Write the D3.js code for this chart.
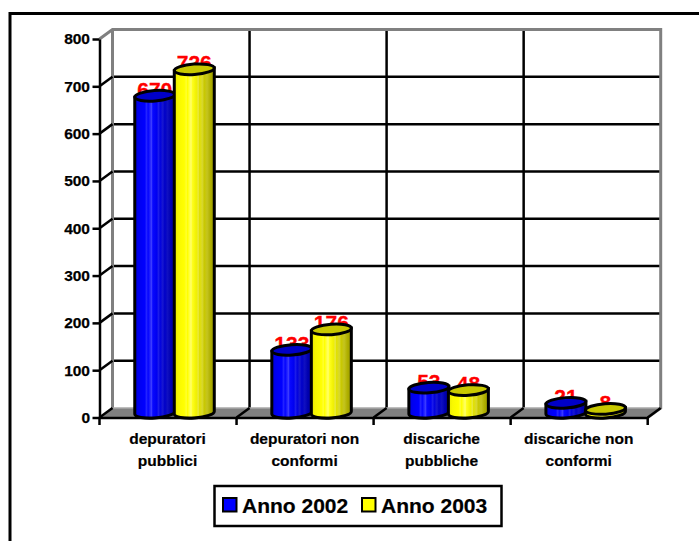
<!DOCTYPE html>
<html><head><meta charset="utf-8">
<script src="https://cdn.jsdelivr.net/npm/d3@7"></script>
<style>html,body{margin:0;padding:0;background:#fff}svg{display:block}text{font-family:"Liberation Sans",Arial,sans-serif;font-weight:bold}</style>
</head><body><div id="c"></div>
<script>
const categories = [["depuratori","pubblici"],["depuratori non","conformi"],["discariche","pubbliche"],["discariche non","conformi"]];
const seriesNames = ["Anno 2002","Anno 2003"];
const anno2002 = [670,133,53,21];
const anno2003 = [726,176,48,8];
const yTicks = [0,100,200,300,400,500,600,700,800];

const seriesValues = [anno2002, anno2003];
const colors = ["#0000ff","#ffff00"];
const topColors = ["#0000c8","#c8c800"];
const W=699,H=541, depthX=13, depthY=-9.5, rx=20, ry=5.2, tilt=4;
const svg=d3.select("#c").append("svg").attr("width",W).attr("height",H);
const y=d3.scaleLinear().domain([0,800]).range([417.5,39]);
const x=d3.scaleBand().domain(d3.range(categories.length)).range([99.5,647.7]);
const inner=d3.scaleBand().domain(d3.range(seriesNames.length)).range([0,x.bandwidth()]).paddingInner(0).paddingOuter(0.734);
const gray="#808080", lw=2.5;

// gradients
const defs=svg.append("defs");
const stops=[
 [[0,"#0000d8"],[.1,"#0000f0"],[.25,"#0000ff"],[.3,"#2828ff"],[.33,"#0000ff"],[.42,"#3c3cff"],[.45,"#0808ff"],[.55,"#0000f0"],[.6,"#2020e8"],[.63,"#0000e0"],[.7,"#1818d0"],[.75,"#0000c8"],[.82,"#1010c0"],[.9,"#0000b0"],[1,"#000098"]],
 [[0,"#e8e800"],[.1,"#f8f800"],[.25,"#ffff00"],[.3,"#ffff30"],[.33,"#ffff00"],[.42,"#ffff70"],[.45,"#ffff20"],[.55,"#f0f000"],[.6,"#e8e840"],[.63,"#e0e000"],[.7,"#d8d830"],[.75,"#c8c800"],[.82,"#c4c420"],[.9,"#b0b000"],[1,"#989800"]]
];
stops.forEach((s,i)=>{
  const g=defs.append("linearGradient").attr("id","g"+i);
  s.forEach(d=>g.append("stop").attr("offset",d[0]).attr("stop-color",d[1]));
});

// outer frame (open on right and bottom)
svg.append("path").attr("d",`M10,${H}V13.5H${W}`).attr("fill","none").attr("stroke","#000").attr("stroke-width",3);

const x0=x.range()[0], x1=x.range()[1], yb=y(0), yt=y(800);

// floor
svg.append("path").attr("d",`M${x0},${yb}L${x0+depthX},${yb+depthY}H${x1+depthX}L${x1},${yb}Z`).attr("fill",gray);

// back grid
const g=svg.append("g");
g.selectAll("line.h").data(yTicks.slice(1,-1)).join("line")
 .attr("x1",x0+depthX).attr("x2",x1+depthX)
 .attr("y1",d=>y(d)+depthY).attr("y2",d=>y(d)+depthY)
 .attr("stroke","#000").attr("stroke-width",lw);
g.selectAll("line.v").data(d3.range(1,categories.length)).join("line")
 .attr("x1",d=>x(d)+depthX).attr("x2",d=>x(d)+depthX)
 .attr("y1",yt+depthY).attr("y2",yb+depthY)
 .attr("stroke","#000").attr("stroke-width",lw);

// walls
svg.append("path").attr("d",`M${x0},${yt}L${x0+depthX},${yt+depthY}H${x1+depthX}V${yb+depthY}L${x1},${yb}`)
 .attr("fill","none").attr("stroke",gray).attr("stroke-width",3);
svg.append("line").attr("x1",x0+depthX).attr("x2",x0+depthX).attr("y1",yt+depthY).attr("y2",yb+depthY).attr("stroke",gray).attr("stroke-width",3);
svg.append("line").attr("x1",x0+depthX).attr("x2",x1+depthX).attr("y1",yb+depthY).attr("y2",yb+depthY).attr("stroke","#a8a8a8").attr("stroke-width",1.5);

// depth diagonals
svg.selectAll("line.d").data(yTicks.slice(0,-1)).join("line")
 .attr("x1",x0).attr("x2",x0+depthX).attr("y1",d=>y(d)).attr("y2",d=>y(d)+depthY)
 .attr("stroke","#000").attr("stroke-width",lw);
svg.selectAll("line.e").data(d3.range(1,categories.length+1)).join("line")
 .attr("x1",d=>x0+d*x.step()).attr("x2",d=>x0+d*x.step()+depthX).attr("y1",yb).attr("y2",yb+depthY)
 .attr("stroke","#000").attr("stroke-width",lw);

// value labels and cylinders
const flat=[];
categories.forEach((c,i)=>seriesValues.forEach((v,s)=>flat.push({i,s,v:v[i]})));
const cx=d=>x(d.i)+inner(d.s)+inner.bandwidth()/2+depthX/2;
const yv=v=>y(v)+depthY/2;
flat.forEach(d=>{
  svg.append("text").attr("x",cx(d)).attr("y",yv(d.v)+1).attr("text-anchor","middle")
    .attr("font-size",21).attr("fill","#ff0000").attr("stroke","#ff0000").attr("stroke-width",0.3).text(d.v);
});
const off=rx*Math.sin(tilt*Math.PI/180);
flat.forEach(d=>{
  const c=cx(d), t=yv(d.v), b=yv(0);
  svg.append("path").attr("d",`M${c-rx},${t+off}V${b+off}A${rx},${ry} ${-tilt} 0 0 ${c+rx},${b-off}V${t-off}Z`)
    .attr("fill",`url(#g${d.s})`).attr("stroke","#000").attr("stroke-width",3);
  svg.append("ellipse").attr("cx",c).attr("cy",t).attr("rx",rx).attr("ry",ry)
    .attr("transform",`rotate(${-tilt} ${c} ${t})`)
    .attr("fill",topColors[d.s]).attr("stroke","#000").attr("stroke-width",3);
});

// axes
const axL=svg.append("g").attr("transform",`translate(${x0},0)`).call(d3.axisLeft(y).tickValues(yTicks).tickSizeInner(7).tickSizeOuter(0).tickPadding(2.5));
const axB=svg.append("g").attr("transform",`translate(0,${yb})`).call(d3.axisBottom(x).tickValues([]).tickSizeOuter(0));
axL.selectAll(".domain").attr("stroke","#000").attr("stroke-width",lw);
axL.selectAll(".tick line").attr("stroke","#000").attr("stroke-width",lw);
axL.selectAll("text").attr("font-size",15.5).attr("fill","#000").attr("stroke","#000").attr("stroke-width",0.25).attr("font-family",'"Liberation Sans"').attr("font-weight","bold");
axB.selectAll(".domain").attr("stroke","#000").attr("stroke-width",lw);
svg.selectAll("line.xt").data(d3.range(0,categories.length+1)).join("line")
 .attr("x1",d=>x0+d*x.step()).attr("x2",d=>x0+d*x.step()).attr("y1",yb).attr("y2",yb+7.5)
 .attr("stroke","#000").attr("stroke-width",lw);

// category labels
categories.forEach((c,i)=>{
  c.forEach((t,j)=>{
    svg.append("text").attr("x",x(i)+x.bandwidth()/2-0.5).attr("y",444+j*22).attr("text-anchor","middle")
      .attr("font-size",15.5).attr("fill","#000").attr("stroke","#000").attr("stroke-width",0.2).text(t);
  });
});

// legend
svg.append("rect").attr("x",214.5).attr("y",486).attr("width",287).attr("height",40)
 .attr("fill","#fff").attr("stroke","#000").attr("stroke-width",2.5);
const legX=[223,362];
seriesNames.forEach((n,i)=>{
  svg.append("rect").attr("x",legX[i]).attr("y",498).attr("width",13.5).attr("height",13.5)
    .attr("fill",colors[i]).attr("stroke","#000").attr("stroke-width",2);
  svg.append("text").attr("x",legX[i]+19).attr("y",512.5).attr("font-size",21).attr("fill","#000").attr("stroke","#000").attr("stroke-width",0.2).text(n);
});
</script></body></html>
